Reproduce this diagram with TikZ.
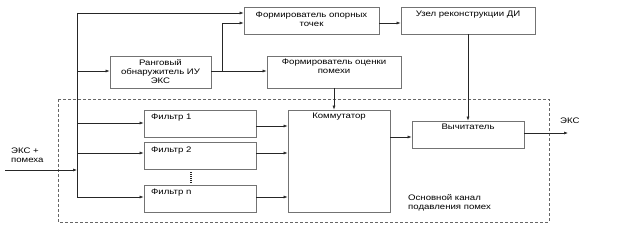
\documentclass[tikz,border=0pt]{standalone}
\usepackage{fontspec}
\setmainfont{Liberation Sans}[FakeStretch=1.2]
\usetikzlibrary{arrows.meta}
\begin{document}
\begin{tikzpicture}[x=1pt,y=-1pt,
  box/.style={draw=black!55,line width=0.8pt,rectangle,inner sep=0pt},
  conn/.style={draw=black!85,line width=0.6pt},
  arr/.style={conn,-{Latex[length=4pt,width=3pt]}},
  txt/.style={font=\fontsize{8}{9}\selectfont,inner sep=0pt,align=center},
  ltxt/.style={font=\fontsize{8}{9}\selectfont,inner sep=0pt,align=left}]
\useasboundingbox (0,0) rectangle (642,240);
% dashed main channel
\draw[black!60,dashed,line width=0.7pt,dash pattern=on 3pt off 2pt] (58,99) rectangle (549,222);
% boxes
\node[box,minimum width=135pt,minimum height=27pt] (fop) at (311.5,20.5) {};
\node[txt] at (311.5,19.5) {Формирователь опорных\\точек};
\node[box,minimum width=134pt,minimum height=27pt] (uzel) at (468,20.5) {};
\node[txt,anchor=north] at (468,11) {Узел реконструкции ДИ};
\node[box,minimum width=101pt,minimum height=32pt] (rang) at (160.5,72) {};
\node[txt] at (160.5,71.5) {Ранговый\\обнаружитель ИУ\\ЭКС};
\node[box,minimum width=134pt,minimum height=32pt] (focen) at (334,72) {};
\node[txt,anchor=north] at (334,59) {Формирователь оценки\\помехи};
\node[box,minimum width=102pt,minimum height=102pt] (kom) at (339,161) {};
\node[txt,anchor=north] at (339,113) {Коммутатор};
\node[box,minimum width=112pt,minimum height=27pt] (vych) at (468,134.5) {};
\node[txt,anchor=north] at (468,124) {Вычитатель};
\node[box,minimum width=112pt,minimum height=27pt] (f1) at (200,123.5) {};
\node[ltxt,anchor=north west] at (151,114) {Фильтр 1};
\node[box,minimum width=112pt,minimum height=27pt] (f2) at (200,156) {};
\node[ltxt,anchor=north west] at (151,146.5) {Фильтр 2};
\node[box,minimum width=112pt,minimum height=27pt] (fn) at (200,198.5) {};
\node[ltxt,anchor=north west] at (151,189) {Фильтр n};
\draw[black!85,line width=1.3pt,dash pattern=on 0.9pt off 1pt] (191,172.5) -- (191,183);
% labels
\node[ltxt,anchor=west] (inlbl) at (11,155.5) {ЭКС +\\помеха};
\node[ltxt,anchor=west] (outlbl) at (560,120.5) {ЭКС};
\node[ltxt,anchor=west] (chlbl) at (408,202.5) {Основной канал\\подавления помех};
% coordinates
\coordinate (tTop) at (77,13);
\coordinate (tBot) at (77,197);
\coordinate (inS) at (5,170);
\coordinate (sp) at (222,71);
\coordinate (outE) at (568,133);
% trunk
\draw[conn] (tTop) -- (tBot);
\draw[arr] (inS) -- (inS -| tTop);
\draw[arr] (tTop) -- (tTop -| fop.west);
\draw[arr] (77,71) -- (rang.west |- 0,71);
\draw[conn] (rang.east |- sp) -- (sp);
\draw[arr] (sp) |- (fop.west |- 0,23);
\draw[arr] (sp) -- (focen.west |- sp);
\draw[arr] (fop.east |- 0,23) -- (uzel.west |- 0,23);
\draw[arr] (uzel.south) -- (vych.north);
\draw[arr] (focen.south) -- (kom.north -| focen.south);
\draw[arr] (77,123) -- (f1.west |- 0,123);
\draw[arr] (77,153) -- (f2.west |- 0,153);
\draw[arr] (tBot) -- (fn.west |- tBot);
\draw[arr] (f1.east |- 0,126) -- (kom.west |- 0,126);
\draw[arr] (f2.east |- 0,153) -- (kom.west |- 0,153);
\draw[arr] (fn.east |- 0,197) -- (kom.west |- 0,197);
\draw[arr] (kom.east |- 0,137) -- (vych.west |- 0,137);
\draw[arr] (vych.east |- outE) -- (outE);
\end{tikzpicture}
\end{document}
